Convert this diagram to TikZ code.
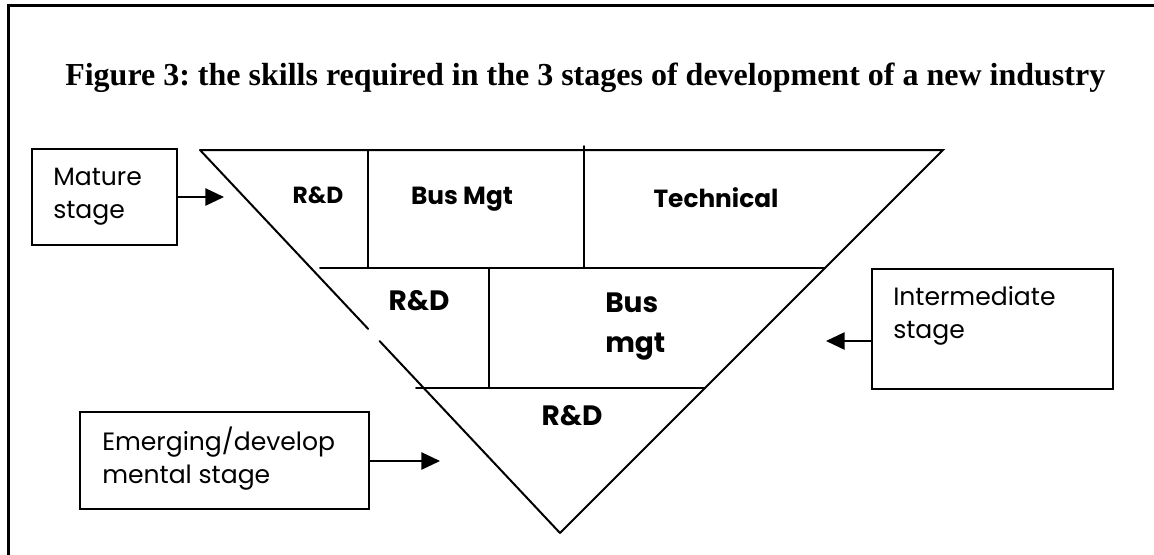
\documentclass[tikz,border=0pt]{standalone}
\usepackage{fontspec}
\setmainfont{Liberation Serif}
\newfontfamily\gothic{Poppins}
\usetikzlibrary{arrows.meta,calc}
\frenchspacing

\tikzset{
  edge/.style={line width=1.5pt, line cap=round},
  thinedge/.style={line width=0.8pt},
  stagebox/.style={draw, line width=1.5pt, inner sep=0pt},
  stagetext/.style={anchor=base west, inner sep=0pt, align=left,
    font=\gothic\fontsize{18.8}{24.5}\selectfont},
  skill/.style={anchor=base, inner sep=0pt, font=\gothic\bfseries},
  pointer/.style={line width=1.2pt, -{Triangle[length=14pt,width=13pt]}},
}

\begin{document}
\begin{tikzpicture}[x=0.75pt,y=-0.75pt]
\useasboundingbox (0,0) rectangle (1154,554);
\fill[white] (0,0) rectangle (1154,554);

% outer frame
\draw[line width=2.25pt] (8,600) -- (8,5) -- (1200,5);

% title
\node[anchor=base west, inner sep=0pt, font=\bfseries\fontsize{24}{30}\selectfont]
  (title) at (65,85) {Figure 3: the skills required in the 3 stages of development of a new industry};

% inverted triangle
\coordinate (A) at (200,150);
\coordinate (B) at (943,150);
\coordinate (C) at (560,533);
\draw[edge] (A) -- (B) -- (C);
\draw[edge] (A) -- ($(A)!0.467!(C)$);
\draw[edge] ($(A)!0.499!(C)$) -- (C);

% stage dividers
\draw[edge] (320,268) -- (825,268);
\draw[edge] (416,388) -- (705,388);
\draw[edge] (368,150) -- (368,268);
\draw[edge] (584,146) -- (584,268);
\draw[thinedge] (489,268) -- (489,341);
\draw[edge] (489,341) -- (489,388);

% skills per stage
\node[skill, font=\gothic\bfseries\fontsize{17.5}{20}\selectfont] (rd1) at (318,203) {R\&D};
\node[skill, font=\gothic\bfseries\fontsize{18.6}{24}\selectfont] (bus1) at (462,204) {Bus Mgt};
\node[skill, font=\gothic\bfseries\fontsize{18.6}{24}\selectfont] (tech) at (716,207) {Technical};
\node[skill, font=\gothic\bfseries\fontsize{21}{30}\selectfont] (rd2) at (419,310) {R\&D};
\node[skill, anchor=base west, align=left, font=\gothic\bfseries\fontsize{21}{30}\selectfont] (bus2) at (605,352) {Bus\\mgt};
\node[skill, font=\gothic\bfseries\fontsize{21}{30}\selectfont] (rd3) at (572,425) {R\&D};

% stage boxes
\node[stagebox, minimum width=108.75pt, minimum height=72pt] (mature) at (104.5,197) {};
\node[stagetext] (maturetxt) at (53,218) {Mature\\stage};
\node[stagebox, minimum width=180.75pt, minimum height=90pt] (inter) at (992.5,329) {};
\node[stagetext] (intertxt) at (893,338) {Intermediate\\stage};
\node[stagebox, minimum width=216.75pt, minimum height=72.75pt] (emerg) at (224.5,460.5) {};
\node[stagetext] (emergtxt) at (102,483) {Emerging/develop\\mental stage};

% pointers
\coordinate (mtip) at (224,197);
\coordinate (itip) at (826,341);
\coordinate (etip) at (440,461);
\draw[pointer] (mature.east |- mtip) -- (mtip);
\draw[pointer] (inter.west |- itip) -- (itip);
\draw[pointer] (emerg.east |- etip) -- (etip);
\end{tikzpicture}
\end{document}
